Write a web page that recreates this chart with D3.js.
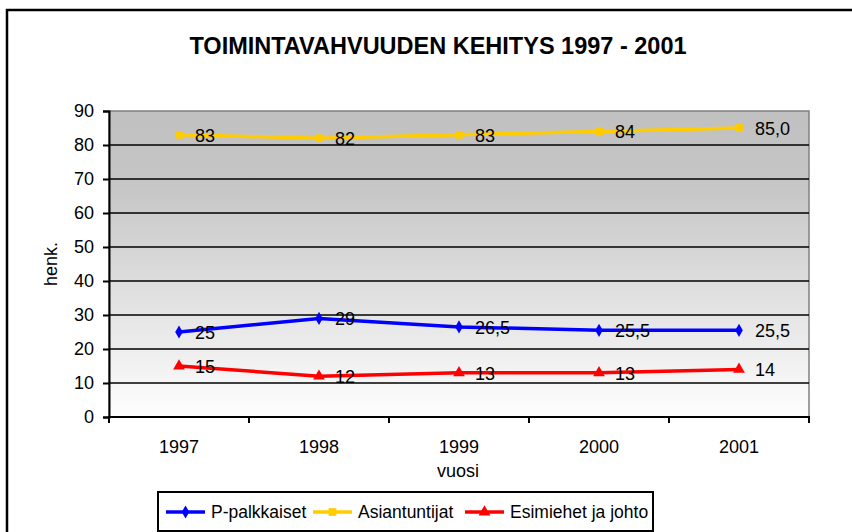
<!DOCTYPE html>
<meta charset="utf-8">
<style>
body { margin: 0; background: #fff; }
text { font-family: "Liberation Sans", Arial, sans-serif; fill: #000; }
.line { fill: none; stroke-width: 3.5; }
</style>
<body>
<script src="https://d3js.org/d3.v7.min.js"></script>
<script>
// values
var years = ["1997", "1998", "1999", "2000", "2001"];
var pPalkkaiset = [25, 29, 26.5, 25.5, 25.5];
var asiantuntijat = [83, 82, 83, 84, 85];
var esimiehet = [15, 12, 13, 13, 14];
var pLabels = ["25", "29", "26,5", "25,5", "25,5"];
var aLabels = ["83", "82", "83", "84", "85,0"];
var eLabels = ["15", "12", "13", "13", "14"];
var yTicks = [0, 10, 20, 30, 40, 50, 60, 70, 80, 90];

var series = [
  {name: "P-palkkaiset", values: pPalkkaiset, labels: pLabels, color: "#0000ff", symbol: d3.symbolDiamond, size: 50},
  {name: "Asiantuntijat", values: asiantuntijat, labels: aLabels, color: "#ffcc00", symbol: d3.symbolSquare, size: 60},
  {name: "Esimiehet ja johto", values: esimiehet, labels: eLabels, color: "#ff0000", symbol: d3.symbolTriangle, size: 60}
];

var W = 852, H = 532;
var plot = {left: 109, top: 111, right: 809, bottom: 417};

var svg = d3.select("body").append("svg")
    .attr("width", W)
    .attr("height", H);

// outer chart border
svg.append("rect")
    .attr("x", 7).attr("y", 10)
    .attr("width", W + 20).attr("height", H + 20)
    .attr("fill", "#fff")
    .attr("stroke", "#000")
    .attr("stroke-width", 2.5);

var defs = svg.append("defs");
var grad = defs.append("linearGradient")
    .attr("id", "bg").attr("x1", 0).attr("y1", 0).attr("x2", 0).attr("y2", 1);
grad.append("stop").attr("offset", "0%").attr("stop-color", "#c0c0c0");
grad.append("stop").attr("offset", "25%").attr("stop-color", "#c6c6c6");
grad.append("stop").attr("offset", "100%").attr("stop-color", "#fefefe");

var x = d3.scaleBand().domain(years).range([plot.left, plot.right]);
var y = d3.scaleLinear().domain([0, 90]).range([plot.bottom, plot.top]);

svg.append("rect")
    .attr("x", plot.left).attr("y", plot.top)
    .attr("width", plot.right - plot.left).attr("height", plot.bottom - plot.top)
    .attr("fill", "url(#bg)")
    .attr("stroke", "#808080")
    .attr("stroke-width", 1.5);

// gridlines
svg.append("g").selectAll("line")
    .data(yTicks.filter(function(d) { return d > 0 && d < 90; }))
  .enter().append("line")
    .attr("x1", plot.left).attr("x2", plot.right)
    .attr("y1", function(d) { return y(d); })
    .attr("y2", function(d) { return y(d); })
    .attr("stroke", "#000")
    .attr("stroke-width", 1.6);

// y axis
var yAxis = d3.axisLeft(y).tickValues(yTicks).tickSize(6).tickPadding(9);
var gy = svg.append("g")
    .attr("transform", "translate(" + plot.left + ",0)")
    .call(yAxis);
gy.select(".domain").attr("stroke", "#000").attr("stroke-width", 2);
gy.selectAll(".tick line").attr("stroke", "#000").attr("stroke-width", 2);
gy.selectAll(".tick text").style("font-size", "18px").attr("fill", "#000");

// x axis, ticks between categories
var gx = svg.append("g")
    .attr("transform", "translate(0," + plot.bottom + ")");
gx.append("line")
    .attr("x1", plot.left - 1).attr("x2", plot.right + 1)
    .attr("stroke", "#000").attr("stroke-width", 2);
var bounds = years.map(function(d) { return x(d); }).concat([x(years[years.length - 1]) + x.bandwidth()]);
gx.selectAll(".xt").data(bounds).enter().append("line")
    .attr("x1", function(d) { return d; }).attr("x2", function(d) { return d; })
    .attr("y1", 0).attr("y2", 6)
    .attr("stroke", "#000").attr("stroke-width", 2);
gx.selectAll(".xl").data(years).enter().append("text")
    .attr("x", function(d) { return x(d) + x.bandwidth() / 2; })
    .attr("y", 36)
    .attr("text-anchor", "middle")
    .style("font-size", "18px")
    .text(function(d) { return d; });

// axis titles
svg.append("text")
    .attr("transform", "translate(57,264) rotate(-90)")
    .attr("text-anchor", "middle")
    .style("font-size", "18px")
    .text("henk.");
svg.append("text")
    .attr("x", 458).attr("y", 477)
    .attr("text-anchor", "middle")
    .style("font-size", "18px")
    .text("vuosi");

// title
svg.append("text")
    .attr("x", 438).attr("y", 54)
    .attr("text-anchor", "middle")
    .style("font-size", "23.5px")
    .style("font-weight", "bold")
    .text("TOIMINTAVAHVUUDEN KEHITYS 1997 - 2001");

var cx = function(i) { return x(years[i]) + x.bandwidth() / 2; };
var line = d3.line()
    .x(function(d, i) { return cx(i); })
    .y(function(d) { return y(d); });

series.forEach(function(s) {
  var g = svg.append("g");
  g.append("path")
      .datum(s.values)
      .attr("class", "line")
      .attr("stroke", s.color)
      .attr("d", line);
  g.selectAll("path.m").data(s.values).enter().append("path")
      .attr("class", "m")
      .attr("d", d3.symbol().type(s.symbol).size(s.size))
      .attr("transform", function(d, i) { return "translate(" + cx(i) + "," + y(d) + ")"; })
      .attr("fill", s.color);
  g.selectAll("text").data(s.values).enter().append("text")
      .attr("x", function(d, i) { return cx(i) + 16; })
      .attr("y", function(d) { return y(d) + 7; })
      .style("font-size", "18px")
      .text(function(d, i) { return s.labels[i]; });
});

// legend
var lg = svg.append("g");
lg.append("rect")
    .attr("x", 158).attr("y", 492)
    .attr("width", 495).attr("height", 39)
    .attr("fill", "#fff")
    .attr("stroke", "#000")
    .attr("stroke-width", 2);
var legendX = [166, 313, 465];
series.forEach(function(s, i) {
  var lx = legendX[i], ly = 512;
  lg.append("line")
      .attr("x1", lx).attr("x2", lx + 39)
      .attr("y1", ly).attr("y2", ly)
      .attr("stroke", s.color).attr("stroke-width", 3.5);
  lg.append("path")
      .attr("d", d3.symbol().type(s.symbol).size(s.size))
      .attr("transform", "translate(" + (lx + 19.5) + "," + ly + ")")
      .attr("fill", s.color);
  lg.append("text")
      .attr("x", lx + 45).attr("y", ly + 6)
      .style("font-size", "17.5px")
      .text(s.name);
});
</script>
</body>
